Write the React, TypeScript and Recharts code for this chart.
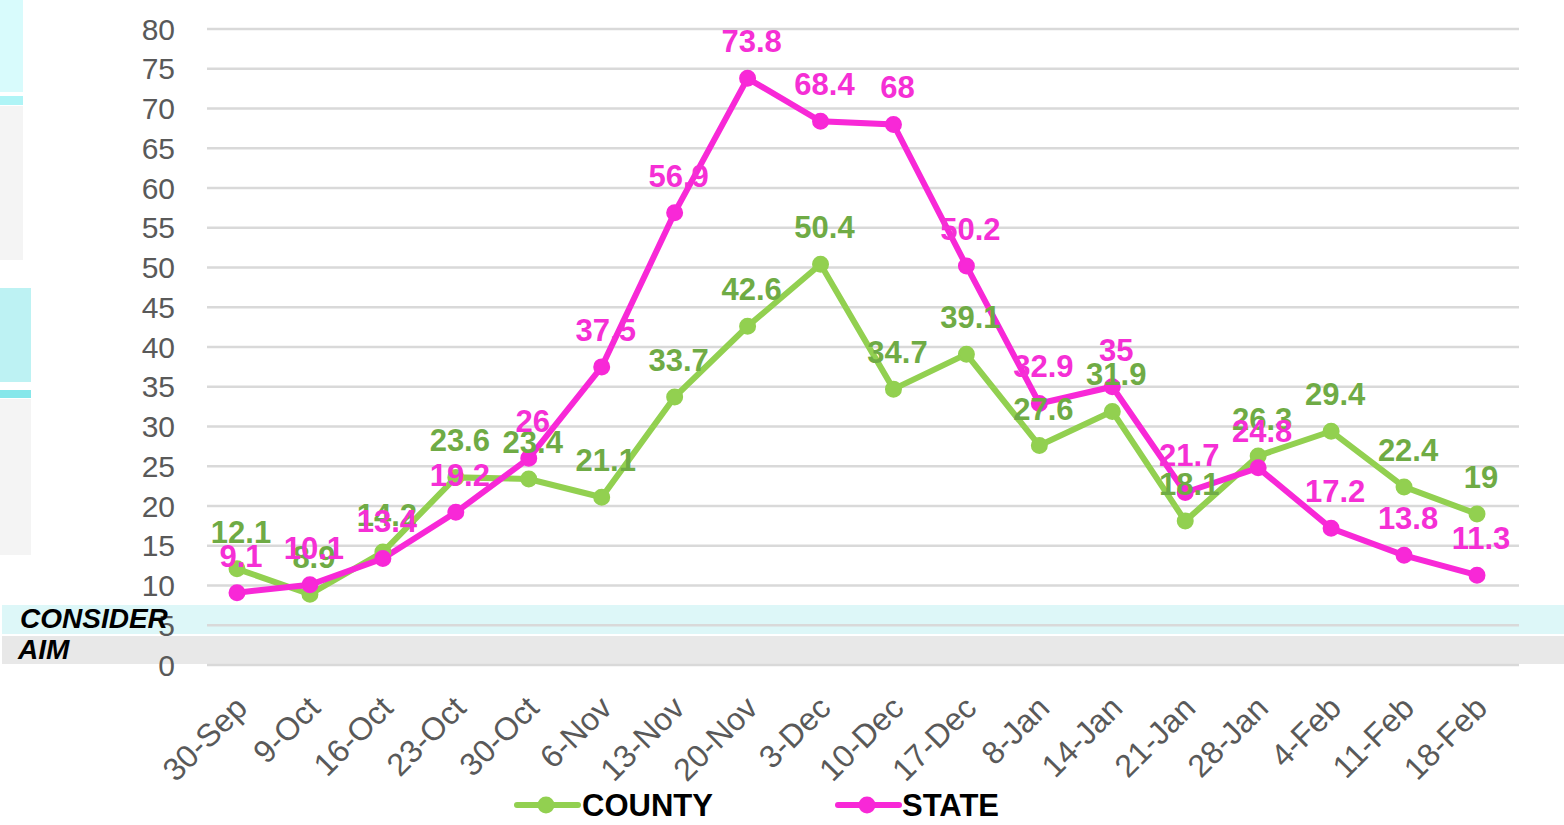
import React from 'react';
import { LineChart, Line, XAxis, YAxis, CartesianGrid, LabelList } from 'recharts';

const categories = ['30-Sep', '9-Oct', '16-Oct', '23-Oct', '30-Oct', '6-Nov', '13-Nov', '20-Nov', '3-Dec', '10-Dec', '17-Dec', '8-Jan', '14-Jan', '21-Jan', '28-Jan', '4-Feb', '11-Feb', '18-Feb'];
const countyValues = [12.1, 8.9, 14.2, 23.6, 23.4, 21.1, 33.7, 42.6, 50.4, 34.7, 39.1, 27.6, 31.9, 18.1, 26.3, 29.4, 22.4, 19];
const stateValues = [9.1, 10.1, 13.4, 19.2, 26, 37.5, 56.9, 73.8, 68.4, 68, 50.2, 32.9, 35, 21.7, 24.8, 17.2, 13.8, 11.3];
const yTicks = [0, 5, 10, 15, 20, 25, 30, 35, 40, 45, 50, 55, 60, 65, 70, 75, 80];

const data = categories.map((c, i) => ({ cat: c, county: countyValues[i], state: stateValues[i] }));

const FONT = '"Liberation Sans", Arial, sans-serif';
const COUNTY_LINE = '#92D050';
const COUNTY_TEXT = '#6FAB45';
const STATE_LINE = '#F828D7';
const STATE_TEXT = '#F52FD5';
const AXIS_TEXT = '#595959';

const XTick = (props: any) => {
  const { x, y, payload } = props;
  const ax = x + 12;
  const ay = y + 45;
  return (
    <text x={ax} y={ay} textAnchor="end" fill={AXIS_TEXT} fontSize={32} fontFamily={FONT} transform={`rotate(-45, ${ax}, ${ay})`}>
      {payload.value}
    </text>
  );
};

const makeLabel = (color: string) => (props: any) => {
  const { x, y, value } = props;
  return (
    <text x={x + 4} y={y - 26} textAnchor="middle" fill={color} fontSize={31} fontWeight="bold" fontFamily={FONT}>
      {value}
    </text>
  );
};

const abs = (s: React.CSSProperties): React.CSSProperties => ({ position: 'absolute', ...s });

export default function App() {
  return (
    <div style={{ position: 'fixed', left: 0, top: 0, width: 1564, height: 825, background: '#fff', overflow: 'hidden', fontFamily: FONT }}>
      {/* left-edge panels */}
      <div style={abs({ left: 0, top: 0, width: 23, height: 92, background: '#D8FBFC' })} />
      <div style={abs({ left: 0, top: 96, width: 23, height: 9, background: '#AFF4F6' })} />
      <div style={abs({ left: 0, top: 106, width: 23, height: 154, background: '#F4F4F4' })} />
      <div style={abs({ left: 0, top: 288, width: 31, height: 94, background: '#BDF2F3' })} />
      <div style={abs({ left: 0, top: 390, width: 31, height: 8, background: '#86E7EA' })} />
      <div style={abs({ left: 0, top: 399, width: 31, height: 156, background: '#F4F4F4' })} />
      {/* bands */}
      <div style={abs({ left: 2, top: 605, width: 1562, height: 29, background: '#DDF7F8' })} />
      <div style={abs({ left: 2, top: 636, width: 1562, height: 28, background: '#E8E8E8' })} />
      <div style={abs({ left: 0, top: 0 })}>
        <LineChart width={1564} height={825} data={data} margin={{ top: 29, right: 45, bottom: 0, left: 0 }}>
          <CartesianGrid horizontal vertical={false} stroke="#D9D9D9" strokeWidth={2.5} />
          <XAxis dataKey="cat" height={160} axisLine={false} tickLine={false} tickSize={0} tickMargin={0} interval={0} padding={{ left: 30, right: 42 }} tick={<XTick />} />
          <YAxis
            width={207}
            domain={[0, 80]}
            ticks={yTicks}
            interval={0}
            axisLine={false}
            tickLine={false}
            tickSize={0}
            tickMargin={32}
            tick={{ fill: AXIS_TEXT, fontSize: 30, fontFamily: FONT }}
          />
          <Line dataKey="county" stroke={COUNTY_LINE} strokeWidth={6} dot={{ r: 7.5, fill: COUNTY_LINE, stroke: COUNTY_LINE, strokeWidth: 2 }} activeDot={false} isAnimationActive={false} />
          <Line dataKey="state" stroke={STATE_LINE} strokeWidth={6} dot={{ r: 7.5, fill: STATE_LINE, stroke: STATE_LINE, strokeWidth: 2 }} activeDot={false} isAnimationActive={false} />
          <Line dataKey="county" stroke="none" dot={false} activeDot={false} isAnimationActive={false}>
            <LabelList dataKey="county" content={makeLabel(COUNTY_TEXT)} />
          </Line>
          <Line dataKey="state" stroke="none" dot={false} activeDot={false} isAnimationActive={false}>
            <LabelList dataKey="state" content={makeLabel(STATE_TEXT)} />
          </Line>
        </LineChart>
      </div>
      {/* band labels */}
      <div style={abs({ left: 20, top: 605, fontSize: 28, lineHeight: '28px', fontWeight: 'bold', fontStyle: 'italic', color: '#000' })}>CONSIDER</div>
      <div style={abs({ left: 18, top: 636, fontSize: 28, lineHeight: '28px', fontWeight: 'bold', fontStyle: 'italic', color: '#000' })}>AIM</div>
      {/* legend */}
      <svg style={abs({ left: 0, top: 780 })} width={1564} height={45}>
        <line x1={517} y1={25} x2={578} y2={25} stroke={COUNTY_LINE} strokeWidth={6} strokeLinecap="round" />
        <circle cx={546} cy={25} r={8.5} fill={COUNTY_LINE} />
        <text x={582} y={36} fontSize={31} fontWeight="bold" fontFamily={FONT} fill="#000">COUNTY</text>
        <line x1={838} y1={25} x2={899} y2={25} stroke={STATE_LINE} strokeWidth={6} strokeLinecap="round" />
        <circle cx={867} cy={25} r={8.5} fill={STATE_LINE} />
        <text x={902} y={36} fontSize={31} fontWeight="bold" fontFamily={FONT} fill="#000">STATE</text>
      </svg>
    </div>
  );
}
